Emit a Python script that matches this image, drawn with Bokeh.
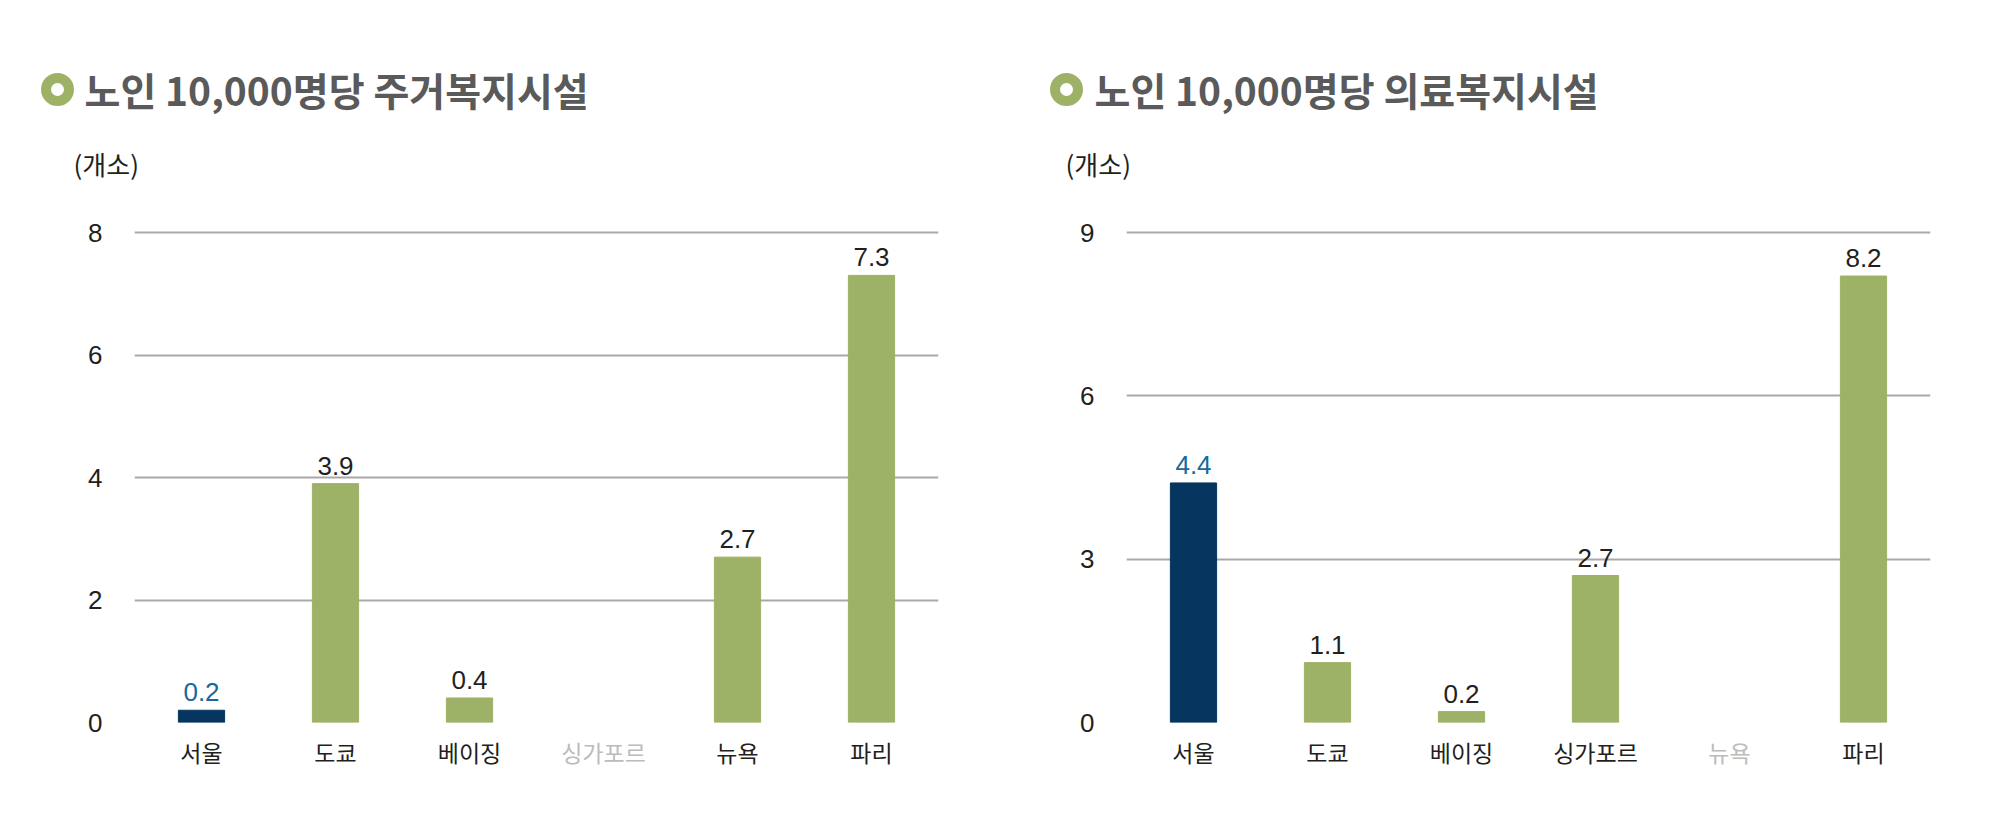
from bokeh.plotting import figure
from bokeh.models import FactorRange, Range1d, FixedTicker, LabelSet, ColumnDataSource
from bokeh.layouts import row, column
from bokeh.embed import file_html
from bokeh.resources import INLINE
from bokeh.core.properties import value

# ---------------- data ----------------
cities = ["서울", "도쿄", "베이징", "싱가포르", "뉴욕", "파리"]
housing = [0.2, 3.9, 0.4, None, 2.7, 7.3]
medical = [4.4, 1.1, 0.2, 2.7, None, 8.2]
housing_ticks = [0, 2, 4, 6, 8]
medical_ticks = [0, 3, 6, 9]
titles = ["노인 10,000명당 주거복지시설", "노인 10,000명당 의료복지시설"]
unit_label = "(개소)"
highlight = "서울"

# ---------------- style ----------------
NAVY = "#06365f"
GREEN = "#9db266"
BLUE = "#17689b"
DARK = "#231f20"
GRID = "#a9a9a9"
MISSING = "#bcbcbc"
TITLE = "#5a5a5a"
KR = "Noto Sans CJK KR"
NUM = "Liberation Sans"

W = 992
BL, BR = 134, 54
HEAD_H = 200          # header band (title + unit)
BT, FH, BB = 30, 492, 14
FOOT_H = 80
FRAME_PX = 490        # pixels from 0 to the top tick


def header():
    tw = 2 * W
    h = figure(width=tw, height=HEAD_H, x_range=Range1d(0, tw), y_range=Range1d(HEAD_H, 0),
               x_axis_type=None, y_axis_type=None, output_backend="svg",
               toolbar_location=None, min_border=0)
    h.outline_line_color = None
    h.grid.visible = False
    h.scatter(x=[57, 1066], y=[89, 89], size=23, fill_color="white",
              line_color=GREEN, line_width=10)
    h.text(x=[84, 1094], y=[88, 88], text=titles, text_color=TITLE,
           text_font=value(KR), text_font_style="bold", text_font_size="39px",
           text_baseline="middle", text_align="left")
    h.text(x=[73, 1065], y=[163, 163], text=[unit_label, unit_label], text_color=DARK,
           text_font=value(KR), text_font_size="26px",
           text_baseline="middle", text_align="left")
    return h


def chart(values, ticks, xr):
    ymax = ticks[-1]
    p = figure(width=W, height=BT + FH + BB, x_range=xr,
               y_range=Range1d(0, ymax * FH / FRAME_PX),
               output_backend="svg", toolbar_location=None,
               min_border_left=BL, min_border_right=BR,
               min_border_top=BT, min_border_bottom=BB)
    p.outline_line_color = None

    xs = [c for c, v in zip(cities, values) if v is not None]
    tops = [v for v in values if v is not None]
    src = ColumnDataSource(dict(
        x=xs, top=tops,
        color=[NAVY if c == highlight else GREEN for c in xs],
        tc=[BLUE if c == highlight else DARK for c in xs],
        label=[f"{v:.1f}" for v in tops]))
    p.vbar(x="x", top="top", width=0.345, color="color", source=src)
    p.add_layout(LabelSet(x="x", y="top", text="label", text_color="tc", source=src,
                          text_align="center", text_baseline="alphabetic", y_offset=9,
                          text_font=value(NUM), text_font_size="26px"))

    p.xaxis.visible = False

    p.yaxis.ticker = FixedTicker(ticks=ticks)
    p.yaxis.axis_line_color = None
    p.yaxis.major_tick_line_color = None
    p.yaxis.minor_tick_line_color = None
    p.yaxis.major_label_text_font = NUM
    p.yaxis.major_label_text_font_size = "26px"
    p.yaxis.major_label_text_color = DARK
    p.yaxis.major_label_standoff = 26

    p.xgrid.grid_line_color = None
    p.ygrid.ticker = FixedTicker(ticks=ticks)
    p.ygrid.grid_line_color = GRID
    p.ygrid.grid_line_width = 1.8
    return p


def footer(values, xr):
    f = figure(width=W, height=FOOT_H, x_range=xr, y_range=Range1d(FOOT_H, 0),
               x_axis_type=None, y_axis_type=None, output_backend="svg",
               toolbar_location=None, min_border_left=BL, min_border_right=BR,
               min_border_top=0, min_border_bottom=0)
    f.outline_line_color = None
    f.grid.visible = False
    src = ColumnDataSource(dict(
        x=cities, y=[15] * len(cities), t=cities,
        c=[MISSING if v is None else DARK for v in values]))
    f.text(x="x", y="y", text="t", text_color="c", source=src,
           text_font=value(KR), text_font_size="23px",
           text_align="center", text_baseline="middle")
    return f


xr1 = FactorRange(*cities, range_padding=0)
xr2 = FactorRange(*cities, range_padding=0)
layout = column(header(),
                row(chart(housing, housing_ticks, xr1), chart(medical, medical_ticks, xr2)),
                row(footer(housing, xr1), footer(medical, xr2)))
open("out.html", "w").write(file_html(layout, INLINE))
